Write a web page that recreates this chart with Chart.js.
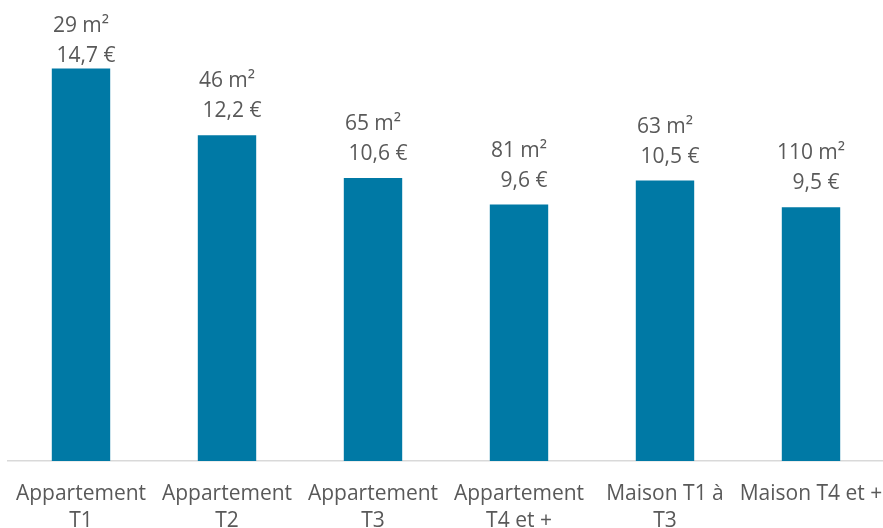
<!DOCTYPE html>
<html>
<head>
<meta charset="utf-8">
<script src="https://cdn.jsdelivr.net/npm/chart.js@4"></script>
<style>
html,body{margin:0;padding:0;background:#fff;overflow:hidden;}
#wrap{width:884px;height:528px;position:relative;}
</style>
</head>
<body>
<div id="wrap"><canvas id="c" width="884" height="528"></canvas></div>
<script>
const categories = [["Appartement","T1"],["Appartement","T2"],["Appartement","T3"],["Appartement","T4 et +"],["Maison T1 à","T3"],["Maison T4 et +"]];
const pricePerM2 = [14.7, 12.2, 10.6, 9.6, 10.5, 9.5];
const surfaceM2 = [29, 46, 65, 81, 63, 110];
const yMax = 17;

const FONT = "'Open Sans', sans-serif";
const TXT = '#595959';

const labelPlugin = {
  id: 'barLabels',
  afterDatasetsDraw(chart) {
    const ctx = chart.ctx;
    const meta = chart.getDatasetMeta(0);
    ctx.save();
    ctx.font = "21px " + FONT;
    ctx.fillStyle = TXT;
    ctx.textAlign = 'center';
    ctx.textBaseline = 'alphabetic';
    meta.data.forEach((bar, i) => {
      let b1 = bar.y - 48;
      if (b1 < 32) b1 = 32;
      const b2 = b1 + 30;
      ctx.fillText(surfaceM2[i] + ' m²', bar.x, b1);
      ctx.fillText(pricePerM2[i].toFixed(1).replace('.', ',') + ' €', bar.x + 5, b2);
    });
    ctx.restore();
  }
};

new Chart(document.getElementById('c'), {
  type: 'bar',
  data: {
    labels: categories,
    datasets: [{
      data: pricePerM2,
      backgroundColor: '#0079A5',
      borderWidth: 0,
      barPercentage: 0.4,
      categoryPercentage: 1.0
    }]
  },
  options: {
    responsive: false,
    animation: false,
    devicePixelRatio: 1,
    layout: { padding: { left: 8, right: 0, top: 7, bottom: 0 } },
    plugins: { legend: { display: false }, tooltip: { enabled: false } },
    scales: {
      y: { display: false, min: 0, max: yMax },
      x: {
        grid: { display: false, drawTicks: false },
        border: { display: true, color: '#D9D9D9', width: 1.5 },
        ticks: {
          color: TXT,
          font: { family: FONT, size: 21, lineHeight: 1.28 },
          maxRotation: 0, minRotation: 0, autoSkip: false,
          padding: 20
        },
        afterFit(scale) {
          scale.height = 528 - 461;
          scale.paddingLeft = 0;
          scale.paddingRight = 0;
        }
      }
    }
  },
  plugins: [labelPlugin]
});
</script>
</body>
</html>
